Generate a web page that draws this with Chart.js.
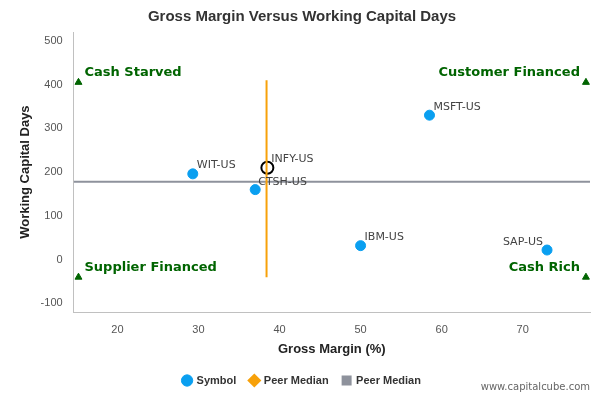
<!DOCTYPE html>
<html>
<head>
<meta charset="utf-8">
<script src="https://cdn.jsdelivr.net/npm/chart.js@4"></script>
<style>
  body { margin: 0; background: #fff; font-family: "DejaVu Sans", sans-serif; }
  #wrap { position: relative; width: 600px; height: 400px; }
  #credit { position: absolute; right: 10px; bottom: 8px; font-size: 10px; color: #666; }
</style>
</head>
<body>
<div id="wrap">
  <canvas id="chart" width="600" height="400"></canvas>
  <div id="credit">www.capitalcube.com</div>
</div>
<script>
const symbols = ['MSFT-US', 'WIT-US', 'CTSH-US', 'IBM-US', 'SAP-US'];
const grossMargin = [58.5, 29.3, 37.0, 50.0, 73.0];
const capitalDays = [330, 196, 160, 32, 22];

const focusName = 'INFY-US';
const focusPoint = { x: 38.5, y: 210 };

const medianX = [38.4, 38.4];
const medianXRange = [-40, 410];
const medianYRange = [14.6, 78.3];
const medianY = [178, 178];

const quadrantNames = ['Cash Starved', 'Customer Financed', 'Supplier Financed', 'Cash Rich'];
const quadrantX = [15.2, 77.8, 15.2, 77.8];
const quadrantY = [405, 405, -40, -40];

const labelPlugin = {
    id: 'labels',
    afterDatasetsDraw(chart) {
        const ctx = chart.ctx;
        const xs = chart.scales.x, ys = chart.scales.y;
        ctx.save();
        ctx.font = '11px "DejaVu Sans"';
        ctx.fillStyle = '#444';
        ctx.textBaseline = 'bottom';
        symbols.forEach((s, i) => {
            const px = xs.getPixelForValue(grossMargin[i]);
            const py = ys.getPixelForValue(capitalDays[i]);
            if (s === 'SAP-US') {
                ctx.textAlign = 'right';
                ctx.fillText(s, px - 4, py - 2);
            } else if (s === 'CTSH-US') {
                ctx.textAlign = 'left';
                ctx.fillText(s, px + 3, py - 2);
            } else {
                ctx.textAlign = 'left';
                ctx.fillText(s, px + 4, py - 3);
            }
        });
        ctx.textAlign = 'left';
        ctx.fillText(focusName, xs.getPixelForValue(focusPoint.x) + 4, ys.getPixelForValue(focusPoint.y) - 3);

        ctx.font = 'bold 13px "DejaVu Sans"';
        ctx.fillStyle = '#006400';
        ctx.textBaseline = 'middle';
        quadrantNames.forEach((n, i) => {
            const px = xs.getPixelForValue(quadrantX[i]);
            const py = ys.getPixelForValue(quadrantY[i]) - 10;
            if (i % 2 === 0) {
                ctx.textAlign = 'left';
                ctx.fillText(n, px + 6, py);
            } else {
                ctx.textAlign = 'right';
                ctx.fillText(n, px - 6, py);
            }
        });
        ctx.restore();
    }
};

const ctx = document.getElementById('chart').getContext('2d');
new Chart(ctx, {
    type: 'scatter',
    data: {
        datasets: [
            {
                label: 'Symbol',
                data: grossMargin.map((x, i) => ({ x: x, y: capitalDays[i] })),
                backgroundColor: '#0a9ff0',
                borderColor: '#0a9ff0',
                pointRadius: 5,
                pointStyle: 'circle'
            },
            {
                label: 'Peer Median',
                data: medianX.map((x, i) => ({ x: x, y: medianXRange[i] })),
                showLine: true,
                borderColor: '#f7a10a',
                backgroundColor: '#f7a10a',
                borderWidth: 2,
                pointRadius: 0,
                pointStyle: 'rectRot'
            },
            {
                label: 'Peer Median',
                data: medianY.map((y, i) => ({ x: medianYRange[i], y: y })),
                showLine: true,
                borderColor: '#8e929c',
                backgroundColor: '#8e929c',
                borderWidth: 2,
                pointRadius: 0,
                pointStyle: 'rect'
            },
            {
                label: '',
                data: [focusPoint],
                backgroundColor: 'rgba(0,0,0,0)',
                borderColor: '#000',
                borderWidth: 2,
                pointRadius: 6
            },
            {
                label: '',
                data: quadrantX.map((x, i) => ({ x: x, y: quadrantY[i] })),
                backgroundColor: '#006400',
                borderColor: '#006400',
                pointStyle: 'triangle',
                pointRadius: 4
            }
        ]
    },
    options: {
        responsive: false,
        animation: false,
        layout: { padding: { left: 14, right: 10, top: 0, bottom: 4 } },
        scales: {
            x: {
                min: 14.6, max: 78.3,
                grid: { display: false },
                border: { color: '#c0c0c0' },
                afterBuildTicks: axis => { axis.ticks = [20, 30, 40, 50, 60, 70].map(v => ({ value: v })); },
                ticks: { color: '#555', font: { size: 11 } },
                title: { display: true, text: 'Gross Margin (%)', color: '#222', font: { size: 13, weight: 'bold' }, padding: { top: 2 } }
            },
            y: {
                min: -120, max: 520,
                grid: { display: false },
                border: { color: '#c0c0c0' },
                afterBuildTicks: axis => { axis.ticks = [-100, 0, 100, 200, 300, 400, 500].map(v => ({ value: v })); },
                ticks: { color: '#555', font: { size: 11 } },
                title: { display: true, text: 'Working Capital Days', color: '#222', font: { size: 13, weight: 'bold' } }
            }
        },
        plugins: {
            title: {
                display: true,
                text: 'Gross Margin Versus Working Capital Days',
                color: '#333',
                font: { size: 15, weight: 'bold' },
                padding: { top: 8, bottom: 6 }
            },
            legend: {
                position: 'bottom',
                labels: {
                    usePointStyle: true,
                    boxWidth: 8, boxHeight: 8,
                    color: '#333',
                    font: { size: 11, weight: 'bold' },
                    padding: 14,
                    filter: item => item.text !== ''
                }
            },
            tooltip: { enabled: false }
        }
    },
    plugins: [labelPlugin]
});
</script>
</body>
</html>
